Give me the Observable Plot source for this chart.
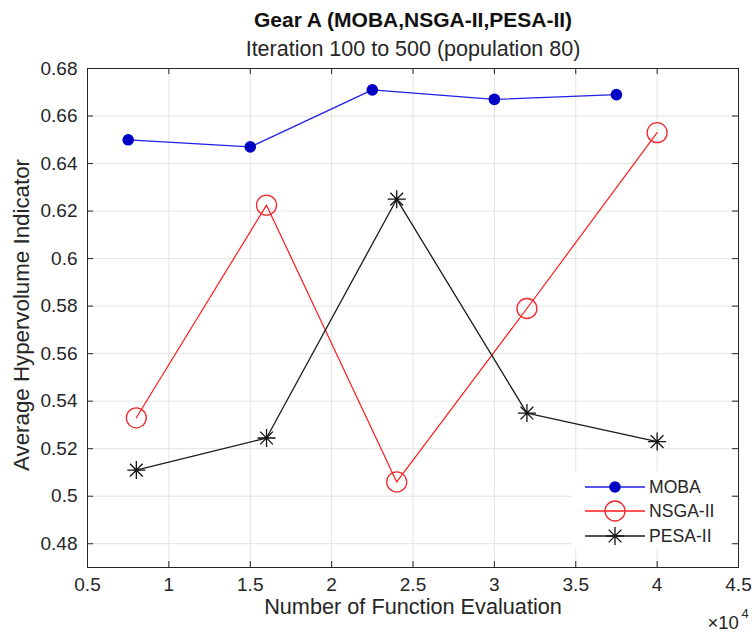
<!DOCTYPE html>
<html>
<head>
<meta charset="utf-8">
<script src="https://cdn.jsdelivr.net/npm/d3@7"></script>
<script src="https://cdn.jsdelivr.net/npm/@observablehq/plot@0.6"></script>
<style>
  html, body { margin: 0; padding: 0; background: #fff; }
  #chart { position: relative; width: 753px; height: 634px; font-family: "Liberation Sans", Arial, sans-serif; }
  #legend { position: absolute; left: 572px; top: 471px; width: 158px; height: 78px; background: #fff; }
  #legend svg { display: block; }
</style>
</head>
<body>
<div id="chart"></div>
<script>
// Average hypervolume per number of function evaluations (Gear A, population 80)
const seriesNames = ["MOBA", "NSGA-II", "PESA-II"];
const mobaEvals = [7500, 15000, 22500, 30000, 37500];
const mobaHV = [0.650, 0.647, 0.671, 0.667, 0.669];
const gaEvals = [8000, 16000, 24000, 32000, 40000];
const nsgaHV = [0.533, 0.6225, 0.506, 0.579, 0.653];
const pesaHV = [0.511, 0.5245, 0.625, 0.535, 0.523];

const xTicks = [5000, 10000, 15000, 20000, 25000, 30000, 35000, 40000, 45000];
const yTicks = [0.48, 0.5, 0.52, 0.54, 0.56, 0.58, 0.6, 0.62, 0.64, 0.66, 0.68];

const titleText = "Gear A (MOBA,NSGA-II,PESA-II)";
const subtitleText = "Iteration 100 to 500 (population 80)";
const xLabel = "Number of Function Evaluation";
const yLabel = "Average Hypervolume Indicator";

const W = 753, H = 634;
const mL = 87, mR = 15, mT = 68, mB = 67;
const innerW = W - mL - mR, innerH = H - mT - mB;
const ink = "#262626";
const gridColor = "#e3e3e3";
const tickLen = 6;

const moba = mobaEvals.map((x, i) => ({x, y: mobaHV[i]}));
const nsga = gaEvals.map((x, i) => ({x, y: nsgaHV[i]}));
const pesa = gaEvals.map((x, i) => ({x, y: pesaHV[i]}));

// eight-armed asterisk marker (plus and times combined)
const asterisk = {
  draw(ctx, size) {
    const r = Math.sqrt(size / Math.PI);
    const d = r * Math.SQRT1_2;
    ctx.moveTo(-r, 0); ctx.lineTo(r, 0);
    ctx.moveTo(0, -r); ctx.lineTo(0, r);
    ctx.moveTo(-d, -d); ctx.lineTo(d, d);
    ctx.moveTo(-d, d); ctx.lineTo(d, -d);
  }
};

const style = {
  moba: {line: "#1f1fe6", marker: "#0000c4"},
  nsga: {line: "#ff1a1a", marker: "#f0282d"},
  pesa: {line: "#1a1a1a", marker: "#111111"}
};

const plot = Plot.plot({
  width: W, height: H,
  marginLeft: mL, marginRight: mR, marginTop: mT, marginBottom: mB,
  style: {fontFamily: "Liberation Sans, Arial, sans-serif", color: ink, background: "#fff", overflow: "visible"},
  x: {domain: [xTicks[0], xTicks[xTicks.length - 1]]},
  y: {domain: [0.47, 0.68]},
  marks: [
    // grid
    Plot.ruleX(xTicks.slice(1, -1), {x: d => d, stroke: gridColor, strokeWidth: 1}),
    Plot.ruleY(yTicks.slice(0, -1), {y: d => d, stroke: gridColor, strokeWidth: 1}),
    // inward ticks on all four sides
    Plot.tickX(xTicks, {x: d => d, insetTop: innerH - tickLen, stroke: ink}),
    Plot.tickX(xTicks, {x: d => d, insetBottom: innerH - tickLen, stroke: ink}),
    Plot.tickY(yTicks, {y: d => d, insetRight: innerW - tickLen, stroke: ink}),
    Plot.tickY(yTicks, {y: d => d, insetLeft: innerW - tickLen, stroke: ink}),
    Plot.frame({stroke: ink, strokeWidth: 1}),
    // tick labels
    Plot.axisX({ticks: xTicks, tickSize: 0, tickPadding: 10, tickFormat: d => String(d / 1e4), fontSize: 19, label: null}),
    Plot.axisY({ticks: yTicks, tickSize: 0, tickPadding: 10, tickFormat: d => String(d), fontSize: 19, label: null}),
    // series
    Plot.line(moba, {x: "x", y: "y", stroke: style.moba.line, strokeWidth: 1.3}),
    Plot.dot(moba, {x: "x", y: "y", r: 5.8, fill: style.moba.marker}),
    Plot.line(nsga, {x: "x", y: "y", stroke: style.nsga.line, strokeWidth: 1.2}),
    Plot.dot(nsga, {x: "x", y: "y", r: 10, stroke: style.nsga.marker, fill: "none", strokeWidth: 1.3}),
    Plot.line(pesa, {x: "x", y: "y", stroke: style.pesa.line, strokeWidth: 1.3}),
    Plot.dot(pesa, {x: "x", y: "y", r: 9, symbol: asterisk, stroke: style.pesa.marker, fill: "none", strokeWidth: 1.3}),
    // titles and axis labels
    Plot.text([titleText], {text: d => d, frameAnchor: "top", lineAnchor: "middle", dy: -48, fontWeight: "bold", fontSize: 21, fill: "#111"}),
    Plot.text([subtitleText], {text: d => d, frameAnchor: "top", lineAnchor: "middle", dy: -19, fontSize: 21.5, fill: ink}),
    Plot.text([xLabel], {text: d => d, frameAnchor: "bottom", lineAnchor: "middle", dy: 40, fontSize: 21.7, fill: ink}),
    Plot.text([yLabel], {text: d => d, frameAnchor: "left", textAnchor: "middle", lineAnchor: "middle", dx: -66, dy: -3, rotate: -90, fontSize: 22.3, fill: ink}),
    Plot.text(["\u00d710"], {text: d => d, frameAnchor: "bottom-right", lineAnchor: "middle", dx: -31, dy: 56, textAnchor: "start", fontSize: 18.5, fill: ink}),
    Plot.text(["4"], {text: d => d, frameAnchor: "bottom-right", lineAnchor: "middle", dx: 3, dy: 46, textAnchor: "start", fontSize: 13, fill: ink})
  ]
});

const chart = document.getElementById("chart");
chart.appendChild(plot);

// legend
const legendRows = [
  {name: seriesNames[0], line: style.moba.line, kind: "fill", color: style.moba.marker},
  {name: seriesNames[1], line: style.nsga.line, kind: "ring", color: style.nsga.marker},
  {name: seriesNames[2], line: style.pesa.line, kind: "star", color: style.pesa.marker}
];
const legend = document.createElement("div");
legend.id = "legend";
const svg = d3.create("svg").attr("width", 158).attr("height", 78);
const rowY = [16, 40, 65];
legendRows.forEach((row, i) => {
  const g = svg.append("g").attr("transform", `translate(0,${rowY[i]})`);
  g.append("line").attr("x1", 13).attr("x2", 73).attr("stroke", row.line).attr("stroke-width", 1.3);
  if (row.kind === "fill") {
    g.append("circle").attr("cx", 43).attr("r", 5.8).attr("fill", row.color);
  } else if (row.kind === "ring") {
    g.append("circle").attr("cx", 43).attr("r", 10).attr("fill", "none").attr("stroke", row.color).attr("stroke-width", 1.3);
  } else {
    const p = d3.path();
    asterisk.draw(p, Math.PI * 81);
    g.append("path").attr("transform", "translate(43,0)").attr("d", p.toString()).attr("stroke", row.color).attr("stroke-width", 1.3).attr("fill", "none");
  }
  g.append("text").attr("x", 77).attr("dy", "0.36em").attr("font-size", 17.6)
    .attr("font-family", "Liberation Sans, Arial, sans-serif").attr("fill", ink).text(row.name);
});
legend.appendChild(svg.node());
chart.appendChild(legend);
</script>
</body>
</html>
